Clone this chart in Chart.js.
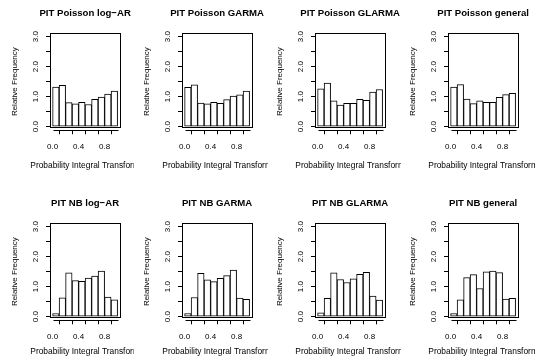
<!DOCTYPE html>
<html><head><meta charset="utf-8">
<script src="https://cdn.jsdelivr.net/npm/chart.js@4"></script>
<style>
html,body{margin:0;padding:0;background:#fff;}
body{width:535px;height:364px;position:relative;overflow:hidden;}
canvas{position:absolute;}
</style></head><body>
<script>
// ---- data ----
const titles = ["PIT Poisson log\u2212AR","PIT Poisson GARMA","PIT Poisson GLARMA","PIT Poisson general",
                "PIT NB log\u2212AR","PIT NB GARMA","PIT NB GLARMA","PIT NB general"];
const binMids = [0.05,0.15,0.25,0.35,0.45,0.55,0.65,0.75,0.85,0.95];
const poissonLogAR   = [1.32,1.38,0.80,0.76,0.81,0.74,0.91,0.99,1.09,1.19];
const poissonGARMA   = [1.31,1.39,0.79,0.76,0.81,0.78,0.90,1.02,1.06,1.19];
const poissonGLARMA  = [1.26,1.45,0.86,0.72,0.78,0.78,0.91,0.88,1.15,1.24];
const poissonGeneral = [1.32,1.40,0.92,0.77,0.86,0.81,0.81,0.98,1.07,1.11];
const nbLogAR   = [0.10,0.63,1.46,1.20,1.18,1.29,1.35,1.52,0.65,0.56];
const nbGARMA   = [0.10,0.64,1.44,1.23,1.17,1.28,1.37,1.55,0.62,0.58];
const nbGLARMA  = [0.13,0.61,1.46,1.24,1.14,1.26,1.41,1.48,0.69,0.55];
const nbGeneral = [0.10,0.56,1.30,1.40,0.94,1.49,1.52,1.47,0.59,0.61];
const xTicks = [0,0.2,0.4,0.6,0.8,1.0];
const xTickLabels = ["0.0","","0.4","","0.8",""];
const yTicks = [0,0.5,1,1.5,2,2.5,3];
const yTickLabels = ["0.0","","1.0","","2.0","","3.0"];
const xLabel = "Probability Integral Transform";
const yLabel = "Relative Frequency";

const series = [poissonLogAR,poissonGARMA,poissonGLARMA,poissonGeneral,nbLogAR,nbGARMA,nbGLARMA,nbGeneral];

// ---- layout ----
const FONT = "'Liberation Sans', Arial, Helvetica, sans-serif";
const colLeft = [1,133,266,399];
const colW = [133,135,135,136];
const rowTop = [0,190];
const rowH = [182,174];
const AXIS_W = 49;      // y axis band width
const PLOT_W = 70.2;    // plot region width
const TOP_H = 33;       // band above plot region
const xAxisH = [51.7,43.7];
const titleY = 13;
const xLabelY = [166,162];

const framePlugin = {
  id:'frame',
  afterDraw(chart, args, opts){
    const {ctx, chartArea:a, scales:{x,y}} = chart;
    ctx.save();
    ctx.strokeStyle='#000'; ctx.lineWidth=1;
    const L = Math.round(a.left)+0.5, R = Math.round(a.right)+0.5;
    const T = Math.round(a.top)+0.5, B0 = Math.round(y.getPixelForValue(0))+0.5;
    ctx.strokeRect(L, T, R-L, B0-T);
    ctx.beginPath();
    const yb = Math.round(a.bottom)+0.5;
    ctx.moveTo(Math.round(x.getPixelForValue(xTicks[0]))+0.5, yb);
    ctx.lineTo(Math.round(x.getPixelForValue(xTicks[xTicks.length-1]))+0.5, yb);
    ctx.moveTo(L, y.getPixelForValue(yTicks[0]));
    ctx.lineTo(L, y.getPixelForValue(yTicks[yTicks.length-1]));
    ctx.stroke();
    ctx.fillStyle='#000'; ctx.textAlign='center'; ctx.textBaseline='middle';
    // rotated y tick labels
    ctx.font = '8px '+FONT;
    y.ticks.forEach(t=>{
      const lab = yTickLabels[yTicks.indexOf(t.value)];
      if(!lab) return;
      ctx.save();
      ctx.translate(a.left-14, y.getPixelForValue(t.value));
      ctx.rotate(-Math.PI/2);
      ctx.fillText(lab,0,0);
      ctx.restore();
    });
    const cx = (a.left + a.right)/2;
    // x axis label
    ctx.font = '8.4px '+FONT;
    ctx.fillText(opts.xLabel, cx, opts.xLabelY);
    // main title
    ctx.font = 'bold 9.6px '+FONT;
    ctx.fillText(opts.title, cx, titleY);
    ctx.restore();
  }
};

series.forEach((vals,i)=>{
  const r = Math.floor(i/4), c = i%4;
  const W = colW[c];
  const cv = document.createElement('canvas');
  cv.width = W; cv.height = rowH[r];
  cv.style.left = colLeft[c]+'px'; cv.style.top = rowTop[r]+'px';
  cv.style.width = W+'px'; cv.style.height = rowH[r]+'px';
  document.body.appendChild(cv);
  new Chart(cv, {
    type:'bar',
    data:{datasets:[{
      data: binMids.map((m,k)=>({x:m, y:vals[k]})),
      backgroundColor:'#fff', borderColor:'#000', borderWidth:1, borderSkipped:false,
      barPercentage:1, categoryPercentage:1
    }]},
    options:{
      responsive:false, animation:false, devicePixelRatio:1,
      layout:{padding:{left:0,top:TOP_H,bottom:0,right:W-AXIS_W-PLOT_W}},
      plugins:{
        legend:{display:false}, tooltip:{enabled:false}, title:{display:false},
        frame:{title:titles[i], xLabel:xLabel, xLabelY:xLabelY[r]}
      },
      scales:{
        x:{type:'linear', min:-0.04, max:1.04, offset:false,
           afterBuildTicks:s=>{s.ticks = xTicks.map(v=>({value:v}));},
           afterFit:s=>{s.height = xAxisH[r];},
           ticks:{autoSkip:false, maxRotation:0, minRotation:0, color:'#000', padding:8,
                  font:{family:FONT,size:8},
                  callback:(v,k)=>xTickLabels[k]},
           grid:{display:true, drawOnChartArea:false, drawTicks:true, tickLength:4, color:'#000', lineWidth:1},
           border:{display:false},
           title:{display:false}},
        y:{type:'linear', min:-0.12, max:3.12,
           afterBuildTicks:s=>{s.ticks = yTicks.map(v=>({value:v}));},
           afterFit:s=>{s.width = AXIS_W;},
           ticks:{display:false},
           grid:{display:true, drawOnChartArea:false, drawTicks:true, tickLength:4, color:'#000', lineWidth:1},
           border:{display:false},
           title:{display:true, text:yLabel, color:'#000', font:{family:FONT,size:8,lineHeight:1.2},
                  padding:{top:8.7,bottom:0}}}
      }
    },
    plugins:[framePlugin]
  });
});
</script>
</body></html>
